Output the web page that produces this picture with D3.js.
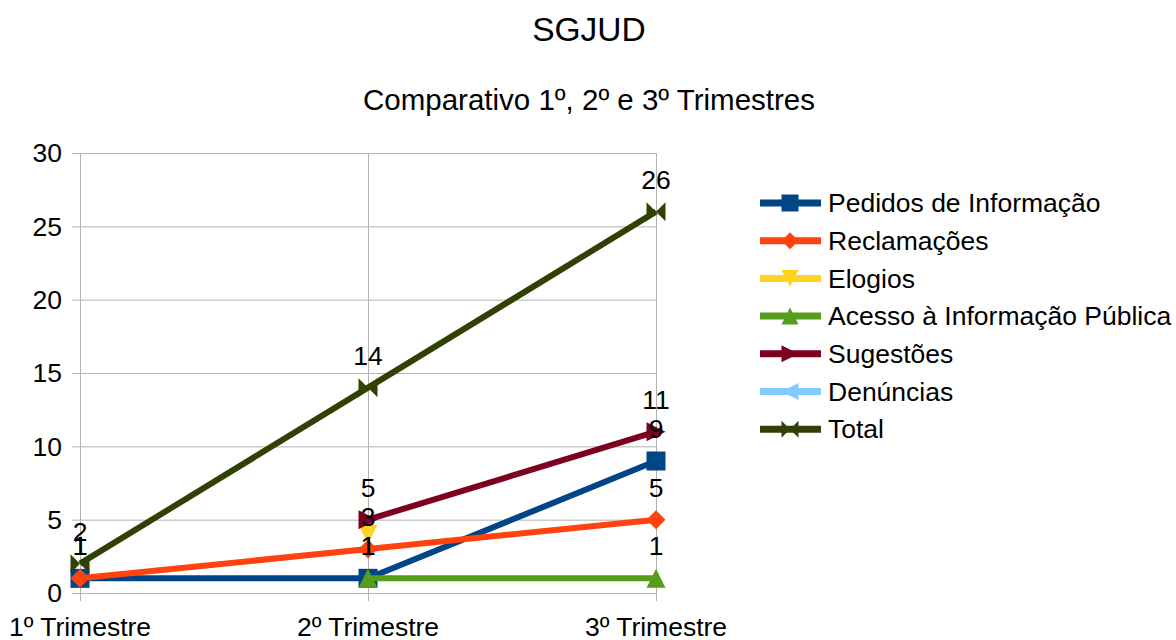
<!DOCTYPE html>
<html>
<head>
<meta charset="utf-8">
<script src="https://cdn.jsdelivr.net/npm/d3@7"></script>
<style>
  body { margin: 0; background: #fff; }
  text { font-family: 'Liberation Sans', Arial, sans-serif; fill: #000; }
</style>
</head>
<body>
<div id="chart"></div>
<script>
// data
const categories = ['1º Trimestre', '2º Trimestre', '3º Trimestre']
const seriesNames = ['Pedidos de Informação', 'Reclamações', 'Elogios', 'Acesso à Informação Pública', 'Sugestões', 'Denúncias', 'Total']
const pedidos = [1, 1, 9]
const reclamacoes = [1, 3, 5]
const elogios = [null, 4, null]
const acesso = [null, 1, 1]
const sugestoes = [null, 5, 11]
const denuncias = [null, null, null]
const total = [2, 14, 26]
const showLabels = [true, true, false, true, true, true, true]
const yTicks = [0, 5, 10, 15, 20, 25, 30]

const colors = ['#004586', '#ff420e', '#ffd320', '#579d1c', '#7e0021', '#83caff', '#314004']
const shapes = ['square', 'diamond', 'down', 'up', 'right', 'left', 'bowtie']
const allValues = [pedidos, reclamacoes, elogios, acesso, sugestoes, denuncias, total]

const series = seriesNames.map((name, i) => ({
  name: name,
  values: allValues[i],
  color: colors[i],
  shape: shapes[i],
  labels: showLabels[i]
}))

const width = 1176
const height = 640
const margin = { top: 153, right: 520, bottom: 47, left: 80 }
const fontSize = 26.5

const svg = d3
  .select('#chart')
  .append('svg')
  .attr('width', width)
  .attr('height', height)

const x = d3.scalePoint()
  .domain(categories)
  .range([margin.left, width - margin.right])

const y = d3.scaleLinear()
  .domain([0, 30])
  .range([height - margin.bottom, margin.top])

// titles
svg.append('text')
  .attr('x', 589).attr('y', 41)
  .attr('text-anchor', 'middle')
  .attr('font-size', 33.5)
  .text('SGJUD')

svg.append('text')
  .attr('x', 589).attr('y', 110)
  .attr('text-anchor', 'middle')
  .attr('font-size', 29.5)
  .text('Comparativo 1º, 2º e 3º Trimestres')

// grid
svg.append('g')
  .selectAll('line')
  .data(yTicks)
  .enter()
  .append('line')
  .attr('x1', margin.left - 8)
  .attr('x2', width - margin.right)
  .attr('y1', d => y(d) + 0.5)
  .attr('y2', d => y(d) + 0.5)
  .attr('stroke', '#b3b3b3')
  .attr('stroke-width', 1)

svg.append('g')
  .selectAll('line')
  .data(categories)
  .enter()
  .append('line')
  .attr('x1', d => x(d) + 0.5)
  .attr('x2', d => x(d) + 0.5)
  .attr('y1', y(30))
  .attr('y2', y(0) + 8)
  .attr('stroke', '#b3b3b3')
  .attr('stroke-width', 1)

// axis labels
svg.append('g')
  .selectAll('text')
  .data(yTicks)
  .enter()
  .append('text')
  .attr('x', margin.left - 18)
  .attr('y', d => y(d))
  .attr('dy', '0.35em')
  .attr('text-anchor', 'end')
  .attr('font-size', fontSize)
  .text(d => d)

svg.append('g')
  .selectAll('text')
  .data(categories)
  .enter()
  .append('text')
  .attr('x', d => x(d))
  .attr('y', y(0) + 43)
  .attr('text-anchor', 'middle')
  .attr('font-size', fontSize)
  .text(d => d)

// marker shapes
function markerPath (shape, s) {
  const h = s / 2
  switch (shape) {
    case 'square': return `M${-h},${-h}H${h}V${h}H${-h}Z`
    case 'diamond': return `M0,${-h}L${h},0L0,${h}L${-h},0Z`
    case 'down': return `M${-h},${-h}H${h}L0,${h}Z`
    case 'up': return `M${-h},${h}H${h}L0,${-h}Z`
    case 'right': return `M${-h},${-h}L${h},0L${-h},${h}Z`
    case 'left': return `M${h},${-h}L${-h},0L${h},${h}Z`
    case 'bowtie': return `M${-h},${-h}L${h},${h}V${-h}L${-h},${h}Z`
  }
}

const line = d3.line()
  .defined(d => d.v !== null)
  .x(d => x(d.c))
  .y(d => y(d.v))

series.forEach(s => {
  const pts = s.values.map((v, i) => ({ c: categories[i], v: v }))
  const g = svg.append('g')
  g.append('path')
    .datum(pts)
    .attr('d', line)
    .attr('fill', 'none')
    .attr('stroke', s.color)
    .attr('stroke-width', 6)
    .attr('stroke-linejoin', 'round')

  g.selectAll('.mark')
    .data(pts.filter(d => d.v !== null))
    .enter()
    .append('path')
    .attr('class', 'mark')
    .attr('d', markerPath(s.shape, 19))
    .attr('transform', d => `translate(${x(d.c)},${y(d.v)})`)
    .attr('fill', s.color)
})

// data labels on top
series.forEach(s => {
  if (!s.labels) return
  const pts = s.values.map((v, i) => ({ c: categories[i], v: v })).filter(d => d.v !== null)
  svg.append('g')
    .selectAll('text')
    .data(pts)
    .enter()
    .append('text')
    .attr('x', d => x(d.c))
    .attr('y', d => y(d.v) - 23)
    .attr('text-anchor', 'middle')
    .attr('font-size', fontSize)
    .text(d => d.v)
})

// legend
const legend = svg.append('g')
  .selectAll('g')
  .data(series)
  .enter()
  .append('g')
  .attr('transform', (d, i) => `translate(760,${203 + i * 37.7})`)

legend.append('line')
  .attr('x1', 0).attr('x2', 61)
  .attr('stroke', d => d.color)
  .attr('stroke-width', 7)

legend.append('path')
  .attr('d', d => markerPath(d.shape, 17))
  .attr('transform', 'translate(30,0)')
  .attr('fill', d => d.color)

legend.append('text')
  .attr('x', 68)
  .attr('dy', '0.35em')
  .attr('font-size', fontSize)
  .text(d => d.name)
</script>
</body>
</html>
